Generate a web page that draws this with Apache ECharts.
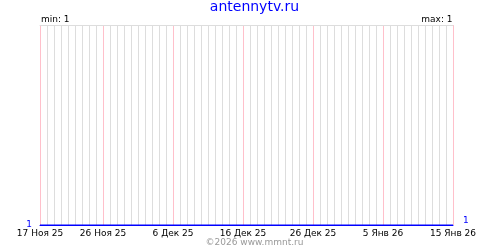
<!DOCTYPE html>
<html>
<head>
<meta charset="utf-8">
<script src="https://cdn.jsdelivr.net/npm/echarts@6/dist/echarts.min.js"></script>
<style>html,body{margin:0;padding:0;background:#fff;}#c{width:500px;height:250px;}</style>
</head>
<body>
<div id="c"></div>
<script>
var categories = ["17 Ноя 25","18 Ноя 25","19 Ноя 25","20 Ноя 25","21 Ноя 25","22 Ноя 25","23 Ноя 25","24 Ноя 25","25 Ноя 25","26 Ноя 25",
"27 Ноя 25","28 Ноя 25","29 Ноя 25","30 Ноя 25","1 Дек 25","2 Дек 25","3 Дек 25","4 Дек 25","5 Дек 25","6 Дек 25",
"7 Дек 25","8 Дек 25","9 Дек 25","10 Дек 25","11 Дек 25","12 Дек 25","13 Дек 25","14 Дек 25","15 Дек 25","16 Дек 25",
"17 Дек 25","18 Дек 25","19 Дек 25","20 Дек 25","21 Дек 25","22 Дек 25","23 Дек 25","24 Дек 25","25 Дек 25","26 Дек 25",
"27 Дек 25","28 Дек 25","29 Дек 25","30 Дек 25","31 Дек 25","1 Янв 26","2 Янв 26","3 Янв 26","4 Янв 26","5 Янв 26",
"6 Янв 26","7 Янв 26","8 Янв 26","9 Янв 26","10 Янв 26","11 Янв 26","12 Янв 26","13 Янв 26","14 Янв 26","15 Янв 26"];
var values = [1,1,1,1,1,1,1,1,1,1, 1,1,1,1,1,1,1,1,1,1, 1,1,1,1,1,1,1,1,1,1, 1,1,1,1,1,1,1,1,1,1, 1,1,1,1,1,1,1,1,1,1, 1,1,1,1,1,1,1,1,1,1];
var tickLabels = ["17 Ноя 25","26 Ноя 25","6 Дек 25","16 Дек 25","26 Дек 25","5 Янв 26","15 Янв 26"];
var yTicks = [1];
var titleText = "antennytv.ru";
var minText = "min: 1";
var maxText = "max: 1";
var footerText = "©2026 www.mmnt.ru";

var FONT = "DejaVu Sans";
function isTick(idx, val) { return tickLabels.indexOf(categories[idx]) >= 0; }
function notTick(idx, val) { return tickLabels.indexOf(categories[idx]) < 0; }

var chart = echarts.init(document.getElementById('c'), null, {renderer: 'canvas'});
chart.setOption({
  animation: false,
  backgroundColor: '#ffffff',
  grid: {left: 40, width: 413, top: 25, height: 200, containLabel: false},
  xAxis: [{
    type: 'category', data: categories, boundaryGap: false, position: 'bottom', z: 0,
    axisLine: {show: true, onZero: false, lineStyle: {color: '#0000ff', width: 1}},
    axisTick: {show: false},
    axisLabel: {interval: isTick, color: '#000', fontFamily: FONT, fontSize: 9, margin: 4, showMaxLabel: true, showMinLabel: true},
    splitLine: {show: true, interval: notTick, lineStyle: {color: '#dddddd', width: 1}}
  }, {
    type: 'category', data: categories, boundaryGap: false, position: 'top', z: 1,
    axisLine: {show: true, onZero: false, lineStyle: {color: '#dddddd', width: 1}},
    axisTick: {show: false}, axisLabel: {show: false},
    splitLine: {show: true, interval: isTick, lineStyle: {color: '#ffc0cb', width: 1}}
  }],
  yAxis: [{
    type: 'value', min: 1, max: 2, interval: 1, position: 'left',
    axisLine: {show: false}, axisTick: {show: false},
    axisLabel: {color: '#0000ff', fontFamily: FONT, fontSize: 9, margin: 8,
      formatter: function (v) { return yTicks.indexOf(v) >= 0 ? String(v) : ''; }},
    splitLine: {show: false}
  }, {
    type: 'value', min: 1, max: 2, interval: 1, position: 'right',
    axisLine: {show: false}, axisTick: {show: false},
    axisLabel: {color: '#0000ff', fontFamily: FONT, fontSize: 9, margin: 10, verticalAlign: 'bottom',
      formatter: function (v) { return yTicks.indexOf(v) >= 0 ? String(v) : ''; }},
    splitLine: {show: false}
  }],
  series: [{
    type: 'line', data: values, xAxisIndex: 0, yAxisIndex: 0,
    showSymbol: false, symbol: 'none',
    lineStyle: {color: '#0000ff', width: 1}, z: 5
  }],
  graphic: [
    {type: 'text', x: 254.5, y: 7, style: {text: titleText, fill: '#0000ff', font: '14px "DejaVu Sans"', textAlign: 'center', textVerticalAlign: 'middle'}},
    {type: 'text', x: 41, y: 19.6, style: {text: minText, fill: '#000', font: '9px "DejaVu Sans"', textAlign: 'left', textVerticalAlign: 'middle'}},
    {type: 'text', x: 452.5, y: 19.6, style: {text: maxText, fill: '#000', font: '9px "DejaVu Sans"', textAlign: 'right', textVerticalAlign: 'middle'}},
    {type: 'text', x: 254.5, y: 243, style: {text: footerText, fill: '#999999', font: '9px "DejaVu Sans"', textAlign: 'center', textVerticalAlign: 'middle'}}
  ]
});
</script>
</body>
</html>
